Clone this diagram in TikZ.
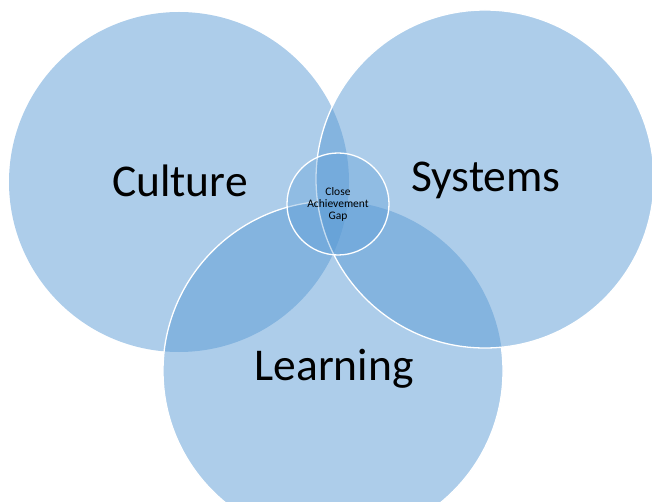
\documentclass[tikz,border=0pt]{standalone}
\usepackage{fontspec}
\setmainfont{Carlito}
\definecolor{vennblue}{RGB}{91,155,213}
\begin{document}
\begin{tikzpicture}[x=1pt,y=-1pt,
  bigl/.style={font=\fontsize{45.5}{50}\selectfont,text=black,anchor=base},
  small/.style={font=\fontsize{11.5}{12}\selectfont,align=center,text=black},
  vennfill/.style={vennblue,fill opacity=0.5},
  outline/.style={white,line width=1.3pt}]
\useasboundingbox (0,0) rectangle (652,502);
\clip (0,0) rectangle (652,502);
\fill[vennfill] (179,182) circle (170);
\fill[vennfill] (333,371) circle (170);
\fill[vennfill] (485,179) circle (169);
% outlines
\begin{scope}[even odd rule]
  \clip (0,0) rectangle (652,502) (485,179) circle (169);
  \draw[outline] (333,371) circle (170);
\end{scope}
\draw[outline] (485,179) circle (169);
\path (179,182) coordinate (culturec);
\path (485,179) coordinate (systemsc);
\path (333,371) coordinate (learningc);
\node[circle,minimum size=102pt,inner sep=0pt,fill=vennblue,fill opacity=0.35,draw=white,draw opacity=1,line width=1.3pt] (gap) at (338,204) {};
\node[bigl] (culture) at (180,197) {Culture};
\node[bigl] (systems) at (486,192) {Systems};
\node[bigl] (learning) at (334,380) {Learning};
\node[small] (gaptext) at (338,204) {Close\\Achievement\\Gap};
\end{tikzpicture}
\end{document}
